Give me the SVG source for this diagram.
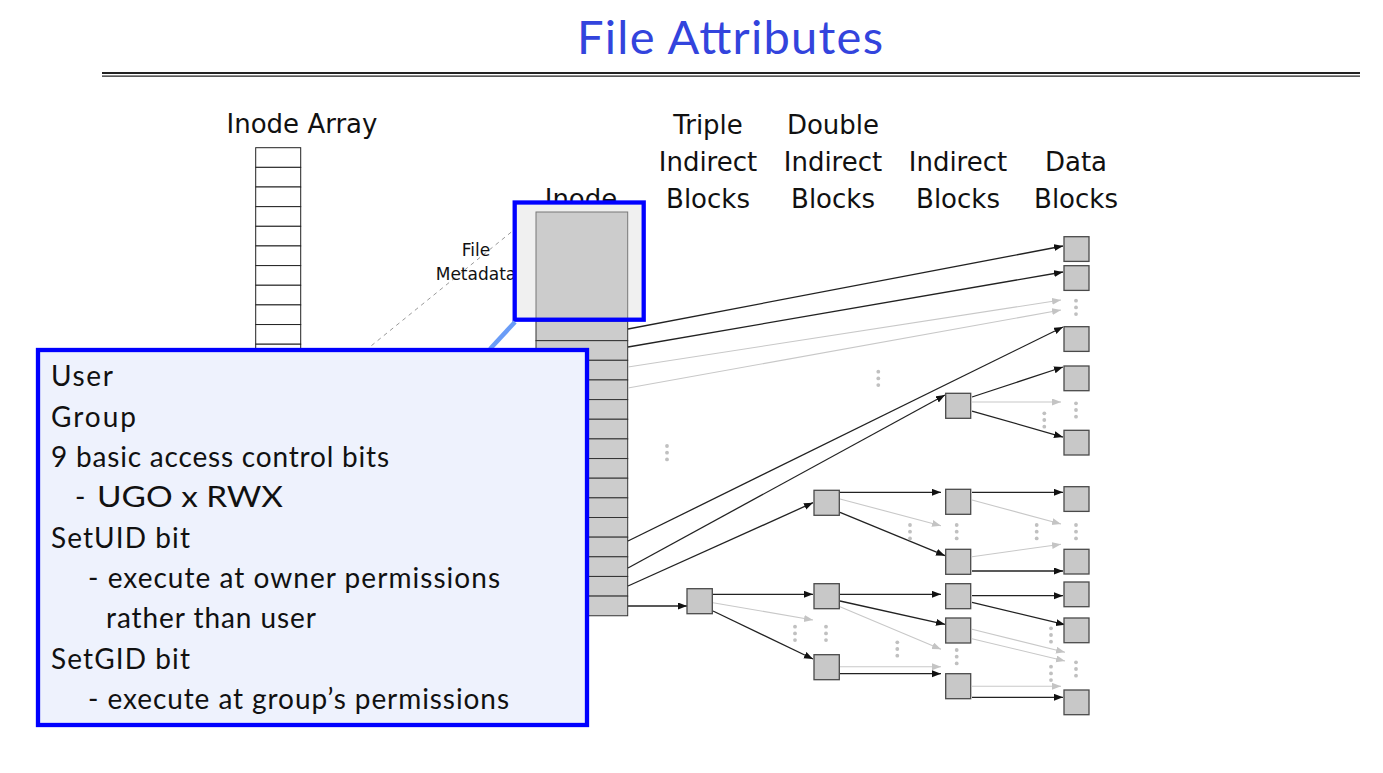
<svg xmlns="http://www.w3.org/2000/svg" width="1383" height="773" viewBox="0 0 1383 773">
<defs>
<marker id="ah" markerUnits="userSpaceOnUse" markerWidth="10" markerHeight="8" refX="9" refY="3.5" orient="auto"><path d="M0,0 L9,3.5 L0,7 z" fill="#111"/></marker>
<marker id="ahg" markerUnits="userSpaceOnUse" markerWidth="10" markerHeight="8" refX="9" refY="3.5" orient="auto"><path d="M0,0 L9,3.5 L0,7 z" fill="#c4c4c4"/></marker>
<g id="dots"><circle cx="0" cy="0" r="1.9"/><circle cx="0" cy="6.7" r="1.9"/><circle cx="0" cy="13.4" r="1.9"/></g>
</defs>
<style>
.hdr{font-family:"DejaVu Sans",sans-serif;font-size:26px;fill:#111;text-anchor:middle}
.blk{fill:#c8c8c8;stroke:#4a4a4a;stroke-width:1.3}
.c{stroke:#222;stroke-width:1.3;fill:none;marker-end:url(#ah)}
.g{stroke:#c8c8c8;stroke-width:1.1;fill:none;marker-end:url(#ahg)}
.cell{fill:#fff;stroke:#222;stroke-width:1}
.icell{fill:#cccccc;stroke:#333;stroke-width:1}
.pop{font-family:Lato,"Open Sans",sans-serif;font-size:28px;fill:#111}
.dt{fill:#c0c0c0}
</style>
<rect width="1383" height="773" fill="#fff"/>
<g id="title">
<text x="577" y="54" font-family="Lato, 'Open Sans', sans-serif" font-size="47" fill="#3344dd" textLength="306">File Attributes</text>
<line x1="102" y1="73" x2="1360" y2="73" stroke="#222" stroke-width="2.2"/>
<line x1="102" y1="76.2" x2="1360" y2="76.2" stroke="#222" stroke-width="1.3"/>
</g>
<g id="headers">
<text class="hdr" x="302" y="133">Inode Array</text>
<text class="hdr" x="708" y="134">Triple</text>
<text class="hdr" x="708" y="171">Indirect</text>
<text class="hdr" x="708" y="208">Blocks</text>
<text class="hdr" x="833" y="134">Double</text>
<text class="hdr" x="833" y="171">Indirect</text>
<text class="hdr" x="833" y="208">Blocks</text>
<text class="hdr" x="958" y="171">Indirect</text>
<text class="hdr" x="958" y="208">Blocks</text>
<text class="hdr" x="1076" y="171">Data</text>
<text class="hdr" x="1076" y="208">Blocks</text>
</g>
<g id="inode-array">
<rect class="cell" x="255.7" y="147.7" width="45" height="19.65"/>
<rect class="cell" x="255.7" y="167.35" width="45" height="19.65"/>
<rect class="cell" x="255.7" y="187" width="45" height="19.65"/>
<rect class="cell" x="255.7" y="206.65" width="45" height="19.65"/>
<rect class="cell" x="255.7" y="226.3" width="45" height="19.65"/>
<rect class="cell" x="255.7" y="245.95" width="45" height="19.65"/>
<rect class="cell" x="255.7" y="265.6" width="45" height="19.65"/>
<rect class="cell" x="255.7" y="285.25" width="45" height="19.65"/>
<rect class="cell" x="255.7" y="304.9" width="45" height="19.65"/>
<rect class="cell" x="255.7" y="324.55" width="45" height="19.65"/>
<rect class="cell" x="255.7" y="344.2" width="45" height="19.65"/>
<rect class="cell" x="255.7" y="363.85" width="45" height="19.65"/>
</g>
<g id="metadata-label">
<line x1="536" y1="212" x2="371" y2="346" stroke="#9a9a9a" stroke-width="1" stroke-dasharray="4,4"/>
<text x="476" y="256" font-family="'DejaVu Sans',sans-serif" font-size="17" fill="#111" text-anchor="middle">File</text>
<text x="476" y="280" font-family="'DejaVu Sans',sans-serif" font-size="17" fill="#111" text-anchor="middle">Metadata</text>
<text class="hdr" x="581" y="208">Inode</text>
</g>
<g id="inode">
<rect x="514.7" y="202.5" width="129" height="117.2" fill="#f0f0f0"/>
<rect x="536" y="212" width="91.7" height="109" fill="#cccccc" stroke="#777" stroke-width="1"/>
<rect class="icell" x="536" y="321" width="91.7" height="19.65"/>
<rect class="icell" x="536" y="340.65" width="91.7" height="19.65"/>
<rect class="icell" x="536" y="360.3" width="91.7" height="19.65"/>
<rect class="icell" x="536" y="379.95" width="91.7" height="19.65"/>
<rect class="icell" x="536" y="399.6" width="91.7" height="19.65"/>
<rect class="icell" x="536" y="419.25" width="91.7" height="19.65"/>
<rect class="icell" x="536" y="438.9" width="91.7" height="19.65"/>
<rect class="icell" x="536" y="458.55" width="91.7" height="19.65"/>
<rect class="icell" x="536" y="478.2" width="91.7" height="19.65"/>
<rect class="icell" x="536" y="497.85" width="91.7" height="19.65"/>
<rect class="icell" x="536" y="517.5" width="91.7" height="19.65"/>
<rect class="icell" x="536" y="537.15" width="91.7" height="19.65"/>
<rect class="icell" x="536" y="556.8" width="91.7" height="19.65"/>
<rect class="icell" x="536" y="576.45" width="91.7" height="19.65"/>
<rect class="icell" x="536" y="596.1" width="91.7" height="19.65"/>
<rect x="514.7" y="202.5" width="129" height="117.2" fill="none" stroke="#0000ff" stroke-width="4.3"/>
</g>
<g id="connectors">
<line class="c" x1="628" y1="329" x2="1063" y2="246"/>
<line class="c" x1="628" y1="347" x2="1063" y2="272"/>
<line class="g" x1="628" y1="367" x2="1061" y2="300"/>
<line class="g" x1="628" y1="388" x2="1061" y2="310"/>
<line class="c" x1="628" y1="541" x2="1063" y2="327"/>
<line class="c" x1="628" y1="568" x2="945" y2="395"/>
<line class="c" x1="628" y1="586" x2="813" y2="502.7"/>
<line class="c" x1="628" y1="606" x2="687" y2="606"/>
<line class="c" x1="972" y1="397" x2="1063" y2="367"/>
<line class="g" x1="972" y1="402" x2="1061" y2="402"/>
<line class="c" x1="972" y1="411" x2="1063" y2="437"/>
<line class="c" x1="840" y1="492.3" x2="941" y2="492.3"/>
<line class="g" x1="840" y1="499" x2="941" y2="525.7"/>
<line class="c" x1="840" y1="512.3" x2="945" y2="555.7"/>
<line class="c" x1="972" y1="492.3" x2="1063" y2="492.3"/>
<line class="g" x1="972" y1="500" x2="1061" y2="524"/>
<line class="g" x1="972" y1="556.7" x2="1061" y2="544.3"/>
<line class="c" x1="972" y1="571" x2="1063" y2="571"/>
<line class="c" x1="713" y1="594.3" x2="813" y2="594.3"/>
<line class="g" x1="713" y1="602.7" x2="813" y2="620"/>
<line class="c" x1="713" y1="611" x2="813" y2="659"/>
<line class="c" x1="840" y1="594.3" x2="941" y2="594.3"/>
<line class="c" x1="840" y1="601" x2="945" y2="624.3"/>
<line class="g" x1="840" y1="606.7" x2="941" y2="649.3"/>
<line class="g" x1="840" y1="666.7" x2="941" y2="666.7"/>
<line class="c" x1="840" y1="673.7" x2="941" y2="673.7"/>
<line class="c" x1="972" y1="595.7" x2="1063" y2="595.7"/>
<line class="c" x1="972" y1="602.3" x2="1065" y2="624.7"/>
<line class="g" x1="972" y1="629.3" x2="1065" y2="652.3"/>
<line class="g" x1="972" y1="638.7" x2="1065" y2="661"/>
<line class="g" x1="972" y1="686.3" x2="1061" y2="686.3"/>
<line class="c" x1="972" y1="697.3" x2="1063" y2="697.3"/>
</g>
<g id="ellipses" class="dt">
<use href="#dots" x="1076" y="300.7"/>
<use href="#dots" x="878.3" y="371.7"/>
<use href="#dots" x="667" y="446"/>
<use href="#dots" x="1044.3" y="413.3"/>
<use href="#dots" x="1076" y="403.3"/>
<use href="#dots" x="910" y="525"/>
<use href="#dots" x="956.7" y="525"/>
<use href="#dots" x="1036.7" y="525"/>
<use href="#dots" x="1076" y="525"/>
<use href="#dots" x="795" y="626.7"/>
<use href="#dots" x="826" y="626.7"/>
<use href="#dots" x="897.3" y="642.3"/>
<use href="#dots" x="956.7" y="650"/>
<use href="#dots" x="1051" y="628.3"/>
<use href="#dots" x="1051" y="666.7"/>
<use href="#dots" x="1076" y="662.3"/>
</g>
<g id="data-blocks">
<rect class="blk" x="1064" y="236.7" width="25" height="24.7"/>
<rect class="blk" x="1064" y="265.7" width="25" height="24.7"/>
<rect class="blk" x="1064" y="326.7" width="25" height="24.7"/>
<rect class="blk" x="1064" y="366" width="25" height="24.7"/>
<rect class="blk" x="1064" y="430.3" width="25" height="24.7"/>
<rect class="blk" x="1064" y="486.7" width="25" height="24.7"/>
<rect class="blk" x="1064" y="549.3" width="25" height="24.7"/>
<rect class="blk" x="1064" y="582" width="25" height="24.7"/>
<rect class="blk" x="1064" y="618" width="25" height="24.7"/>
<rect class="blk" x="1064" y="690" width="25" height="24.7"/>
</g>
<g id="indirect-blocks">
<rect class="blk" x="945.7" y="393.3" width="25" height="25"/>
<rect class="blk" x="945.7" y="489.3" width="25" height="25"/>
<rect class="blk" x="945.7" y="549.3" width="25" height="25"/>
<rect class="blk" x="945.7" y="583.7" width="25" height="25"/>
<rect class="blk" x="945.7" y="618" width="25" height="25"/>
<rect class="blk" x="945.7" y="673.7" width="25" height="25"/>
</g>
<g id="double-indirect-blocks">
<rect class="blk" x="814" y="490.3" width="25.3" height="25"/>
<rect class="blk" x="814" y="583.7" width="25.3" height="25"/>
<rect class="blk" x="814" y="654.7" width="25.3" height="25"/>
</g>
<g id="triple-indirect-block">
<rect class="blk" x="687" y="588.7" width="25.3" height="25"/>
</g>
<g id="callout">
<line x1="515" y1="322" x2="490" y2="349" stroke="#6a9cf7" stroke-width="4.5"/>
<rect x="38" y="350" width="549" height="375" fill="#eef2fd" stroke="#0000ff" stroke-width="4.3"/>
<text class="pop" x="51" y="386" textLength="62">User</text>
<text class="pop" x="51" y="427" textLength="85">Group</text>
<text class="pop" x="51" y="467" textLength="338">9 basic access control bits</text>
<text class="pop" y="507"><tspan x="75">-</tspan> <tspan x="97" textLength="186" lengthAdjust="spacingAndGlyphs">UGO x RWX</tspan></text>
<text class="pop" x="51" y="548" textLength="139">SetUID bit</text>
<text class="pop" x="88" y="588" textLength="412">- execute at owner permissions</text>
<text class="pop" x="106" y="628" textLength="210">rather than user</text>
<text class="pop" x="51" y="669" textLength="139">SetGID bit</text>
<text class="pop" x="88" y="709" textLength="421">- execute at group’s permissions</text>
</g>
</svg>
